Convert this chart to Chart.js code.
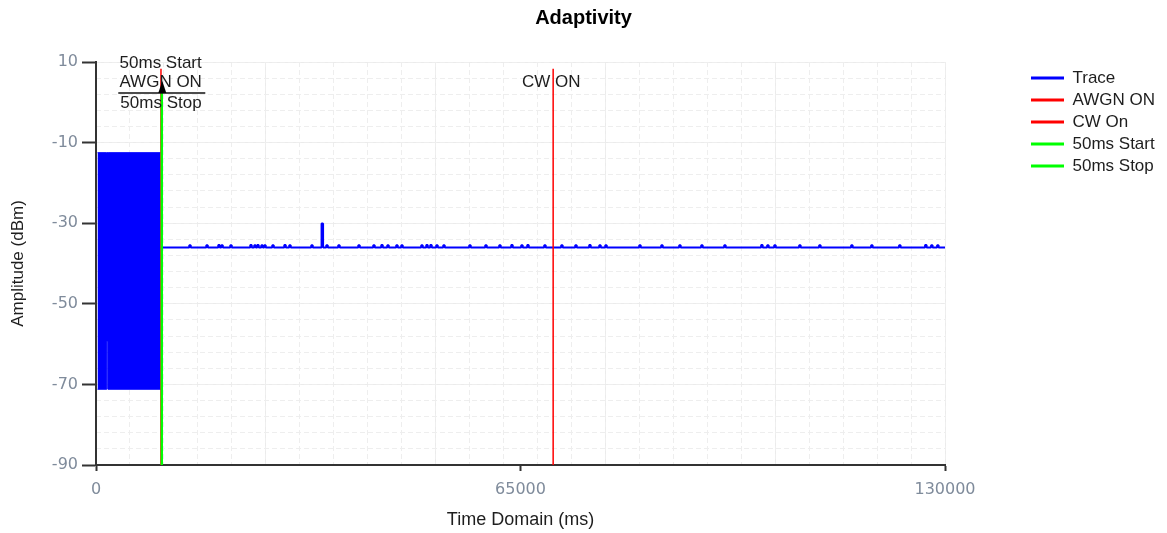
<!DOCTYPE html>
<html lang="en">
<head>
    <meta charset="UTF-8">
    <title>Adaptivity</title>
    <style>
        body {
            margin: 0;
            background-color: #ffffff;
        }
        #chartContainer {
            width: 1167px;
            height: 533px;
        }
    </style>
</head>
<body>
    <div id="chartContainer">
        <canvas id="adaptivityChart"></canvas>
    </div>

    <script src="https://cdn.jsdelivr.net/npm/chart.js@4.4.3/dist/chart.umd.min.js"></script>

    <script>
        // axis ticks
        const xTickValues = [0, 65000, 130000];
        const yTickValues = [10, -10, -30, -50, -70, -90];

        // burst section at the start of the trace (upper / lower envelope)
        const burstTimes = [230, 1650, 1660, 1850, 1860, 9900];
        const burstHigh = [-12.5, -12.5, -12.5, -12.5, -12.5, -12.5];
        const burstLow = [-71.2, -71.2, -59.2, -59.2, -71.2, -71.2];

        // flat part of the trace and its small spikes
        const traceStart = 10100;
        const traceEnd = 130000;
        const traceFloor = -36;
        const spikeTimes = [14390, 17000, 18830, 19300, 20670, 23730, 24340, 24800, 25420, 25870, 27100,
            28940, 29700, 33070, 34650, 35370, 37200, 40270, 42560, 43790, 44710, 46080, 46850,
            49910, 50680, 51290, 52210, 53280, 57260, 59710, 61850, 63690, 65220, 66140, 68740,
            71340, 73490, 75630, 77170, 78090, 83290, 86660, 89410, 92780, 96300, 101960, 102880,
            103960, 107780, 110840, 115740, 118800, 123080, 127060, 127980, 128900];
        const spikeLevels = [-35.5, -35.5, -35.4, -35.5, -35.5, -35.4, -35.5, -35.4, -35.5, -35.5, -35.5,
            -35.4, -35.5, -35.5, -30.1, -35.5, -35.5, -35.5, -35.5, -35.4, -35.5, -35.5, -35.5,
            -35.5, -35.4, -35.4, -35.5, -35.5, -35.5, -35.5, -35.5, -35.4, -35.5, -35.4, -35.5,
            -35.5, -35.5, -35.4, -35.5, -35.5, -35.5, -35.5, -35.5, -35.5, -35.5, -35.4, -35.5,
            -35.5, -35.5, -35.5, -35.5, -35.5, -35.5, -35.4, -35.5, -35.5];

        // vertical event markers
        const markerNames = ['AWGN ON', 'CW On', '50ms Start', '50ms Stop'];
        const markerTimes = [9950, 70000, 10050, 10100];
        const markerTops = [8.3, 8.3, 2.6, 2.6];

        // text notes drawn on the plot
        const noteTexts = ['50ms Start', 'AWGN ON', '50ms Stop', 'CW ON'];
        const noteTimes = [9900, 9900, 9950, 69700];
        const noteLevels = [9.7, 5.0, -0.3, 5.0];
        const dividerTime = 10150;
        const dividerLevel = 2.3;

        // grid spacing
        const xMinorStep = 5200;
        const xMajorStep = 26000;
        const yMinorStep = 4;

        const baseFont = '"Liberation Sans", Arial, sans-serif';
        const tickFont = { family: '"DejaVu Sans", sans-serif', size: 16 };
        const tickColor = '#7f8b9b';

        const burstTop = burstTimes.map((t, i) => ({ x: t, y: burstHigh[i] }));
        const burstBottom = burstTimes.map((t, i) => ({ x: t, y: burstLow[i] }));

        const tracePoints = [{ x: traceStart, y: traceFloor }];
        spikeTimes.forEach((t, i) => {
            tracePoints.push({ x: t - 120, y: traceFloor });
            tracePoints.push({ x: t - 110, y: spikeLevels[i] });
            tracePoints.push({ x: t + 110, y: spikeLevels[i] });
            tracePoints.push({ x: t + 120, y: traceFloor });
        });
        tracePoints.push({ x: traceEnd, y: traceFloor });

        const markerLine = i => [{ x: markerTimes[i], y: -90 }, { x: markerTimes[i], y: markerTops[i] }];

        function stepTicks(scale, step) {
            const ticks = [];
            for (let v = scale.min; v <= scale.max + 1e-6; v += step) ticks.push({ value: v });
            scale.ticks = ticks;
        }

        // puts the legend at the far right, below the title
        const legendSpot = {
            id: 'legendSpot',
            beforeLayout(chart) {
                const lg = chart.legend;
                if (lg && !lg._wide) {
                    const fit = lg.fit;
                    lg.fit = function () { fit.call(this); this.width = 222; };
                    lg._wide = true;
                }
            },
            afterLayout(chart) {
                const lg = chart.legend;
                const area = chart.chartArea;
                const w = lg.right - lg.left;
                lg.left = area.right + 81;
                lg.right = lg.left + w;
                lg.top = area.top + 2.5;
            }
        };

        const notes = {
            id: 'notes',
            afterDatasetsDraw(chart) {
                const { ctx, scales: { x, y } } = chart;
                ctx.save();
                ctx.font = '17px ' + baseFont;
                ctx.fillStyle = '#1e1e1e';
                ctx.textAlign = 'center';
                ctx.textBaseline = 'middle';
                noteTexts.forEach((t, i) => {
                    ctx.fillText(t, x.getPixelForValue(noteTimes[i]), y.getPixelForValue(noteLevels[i]));
                });
                const cx = x.getPixelForValue(dividerTime);
                const cy = y.getPixelForValue(dividerLevel);
                ctx.strokeStyle = '#111';
                ctx.lineWidth = 1.5;
                ctx.beginPath();
                ctx.moveTo(cx - 44, cy);
                ctx.lineTo(cx + 43, cy);
                ctx.stroke();
                ctx.fillStyle = '#000';
                ctx.beginPath();
                ctx.moveTo(cx - 4, cy);
                ctx.lineTo(cx + 4, cy);
                ctx.lineTo(cx, cy - 12);
                ctx.closePath();
                ctx.fill();
                ctx.restore();
            }
        };

        const config = {
            type: 'line',
            data: {
                datasets: [
                    { label: 'Trace', data: tracePoints, borderColor: '#0000ff', borderWidth: 2,
                      borderJoinStyle: 'bevel', order: 2 },
                    { label: markerNames[0], data: markerLine(0), borderColor: '#ff0000', borderWidth: 1.5, order: 1 },
                    { label: markerNames[1], data: markerLine(1), borderColor: '#ff0000', borderWidth: 1.5, order: 1 },
                    { label: markerNames[2], data: markerLine(2), borderColor: '#00ff00', borderWidth: 2, order: 0 },
                    { label: markerNames[3], data: markerLine(3), borderColor: '#00ff00', borderWidth: 2, order: 0 },
                    { label: 'burstTop', data: burstTop, borderColor: '#0000ff', borderWidth: 1,
                      backgroundColor: '#0000ff', fill: '+1', order: 3 },
                    { label: 'burstBottom', data: burstBottom, borderColor: '#0000ff', borderWidth: 1, order: 3 }
                ]
            },
            options: {
                responsive: true,
                maintainAspectRatio: false,
                animation: false,
                events: [],
                elements: {
                    point: { radius: 0 },
                    line: { tension: 0 }
                },
                layout: { padding: 0 },
                scales: {
                    x: {
                        type: 'linear',
                        position: 'bottom',
                        min: 0,
                        max: 130000,
                        afterBuildTicks: s => { s.ticks = xTickValues.map(v => ({ value: v })); },
                        afterFit: s => { s.height = 68; },
                        ticks: { font: tickFont, color: tickColor, padding: 9, maxRotation: 0,
                                 callback: v => String(v) },
                        grid: { drawOnChartArea: false, tickLength: 6, tickColor: '#333', tickWidth: 2 },
                        border: { color: '#333', width: 2 },
                        title: {
                            display: true,
                            text: 'Time Domain (ms)',
                            color: '#1e1e1e',
                            font: { family: baseFont, size: 18 },
                            padding: { top: 0, bottom: 2 }
                        }
                    },
                    xMajor: {
                        type: 'linear',
                        position: 'bottom',
                        min: 0,
                        max: 130000,
                        afterBuildTicks: s => stepTicks(s, xMajorStep),
                        afterFit: s => { s.height = 0; },
                        ticks: { display: false },
                        grid: { color: '#ebebeb', lineWidth: 1, drawTicks: false },
                        border: { display: false }
                    },
                    xMinor: {
                        type: 'linear',
                        position: 'bottom',
                        min: 0,
                        max: 130000,
                        afterBuildTicks: s => stepTicks(s, xMinorStep),
                        afterFit: s => { s.height = 0; },
                        ticks: { display: false },
                        grid: { color: '#eeeeee', lineWidth: 1, drawTicks: false },
                        border: { display: false, dash: [5, 3] }
                    },
                    y: {
                        type: 'linear',
                        position: 'left',
                        min: -90,
                        max: 10,
                        afterBuildTicks: s => { s.ticks = yTickValues.map(v => ({ value: v })); },
                        afterFit: s => { s.width = 96; },
                        ticks: { font: tickFont, color: tickColor, padding: 4, callback: v => String(v) },
                        grid: { color: '#ebebeb', lineWidth: 1, tickLength: 14, tickColor: '#333', tickWidth: 2 },
                        border: { color: '#333', width: 2 },
                        title: {
                            display: true,
                            text: 'Amplitude (dBm)',
                            color: '#1e1e1e',
                            font: { family: baseFont, size: 17 },
                            padding: { top: 8, bottom: 0 }
                        }
                    },
                    yMinor: {
                        type: 'linear',
                        position: 'left',
                        min: -90,
                        max: 10,
                        afterBuildTicks: s => stepTicks(s, yMinorStep),
                        afterFit: s => { s.width = 0; },
                        ticks: { display: false },
                        grid: { color: '#eeeeee', lineWidth: 1, drawTicks: false },
                        border: { display: false, dash: [5, 3] }
                    }
                },
                plugins: {
                    title: {
                        display: true,
                        text: 'Adaptivity',
                        color: '#000',
                        font: { family: baseFont, size: 20, weight: 'bold' },
                        padding: { top: 6, bottom: 32 }
                    },
                    legend: {
                        display: true,
                        position: 'right',
                        align: 'start',
                        labels: {
                            color: '#1e1e1e',
                            font: { family: baseFont, size: 17 },
                            usePointStyle: true,
                            pointStyle: 'line',
                            pointStyleWidth: 33,
                            padding: 5,
                            filter: item => item.datasetIndex < 5,
                            sort: (a, b) => a.datasetIndex - b.datasetIndex,
                            generateLabels: chart => {
                                const items = Chart.defaults.plugins.legend.labels.generateLabels(chart);
                                items.forEach(it => { it.lineWidth = 3; it.pointStyle = 'line'; });
                                return items;
                            }
                        }
                    },
                    tooltip: { enabled: false }
                }
            },
            plugins: [legendSpot, notes]
        };

        const ctx = document.getElementById('adaptivityChart').getContext('2d');
        new Chart(ctx, config);
    </script>
</body>
</html>
